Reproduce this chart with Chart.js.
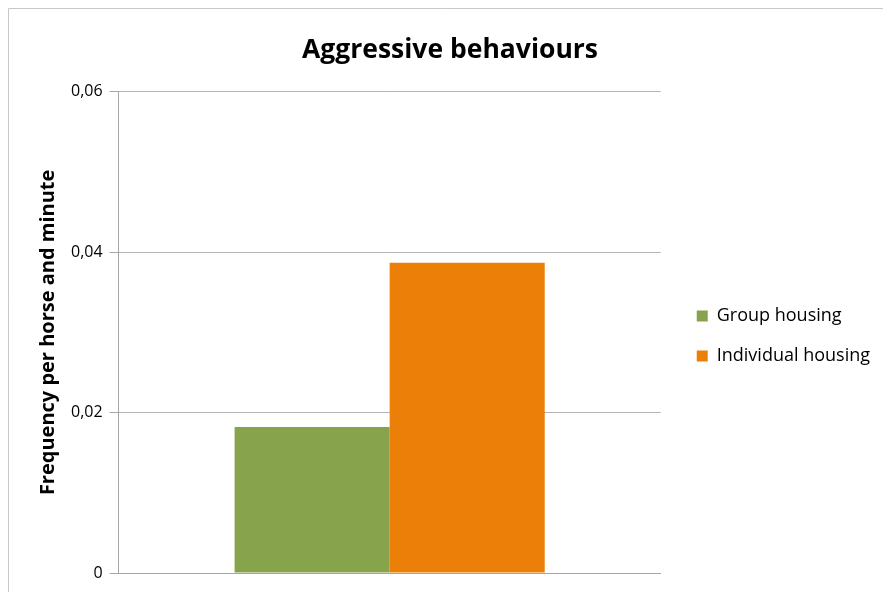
<!DOCTYPE html>
<html>
<head>
<meta charset="utf-8">
<script src="https://cdn.jsdelivr.net/npm/chart.js@4"></script>
<style>
    html, body { margin: 0; padding: 0; background: #fff; }
    #wrap { width: 883px; height: 592px; position: relative; }
</style>
</head>
<body>
<div id="wrap"><canvas id="behaviour_chart" width="883" height="592"></canvas></div>
<script>
var categories = [''];
var seriesNames = ['Group housing', 'Individual housing'];
var groupHousing = [0.0182];
var individualHousing = [0.0387];
var yTicks = [0, 0.02, 0.04, 0.06];

var FONT = "'Open Sans', 'DejaVu Sans', sans-serif";

// light frame round the whole chart
var framePlugin = {
    id: 'frame',
    beforeDraw: function (chart) {
        var ctx = chart.ctx;
        ctx.save();
        ctx.strokeStyle = '#c8c8c8';
        ctx.lineWidth = 1;
        ctx.beginPath();
        ctx.moveTo(8.5, chart.height);
        ctx.lineTo(8.5, 8.5);
        ctx.lineTo(chart.width, 8.5);
        ctx.stroke();
        ctx.restore();
    }
};

// push the legend a little further right, away from the plot
var legendNudge = {
    id: 'legendNudge',
    afterLayout: function (chart) {
        if (chart.legend) {
            chart.legend.left += 14;
            chart.legend.right += 14;
        }
    }
};

document.addEventListener('DOMContentLoaded', function () {
    var ctx = document.getElementById('behaviour_chart').getContext('2d');
    new Chart(ctx, {
        type: 'bar',
        data: {
            labels: categories,
            datasets: [{
                label: seriesNames[0],
                data: groupHousing,
                backgroundColor: '#87a34b',
                borderWidth: 0
            }, {
                label: seriesNames[1],
                data: individualHousing,
                backgroundColor: '#ec7f07',
                borderWidth: 0
            }]
        },
        options: {
            responsive: false,
            animation: false,
            layout: { padding: { top: 35, right: 17, bottom: 11, left: 34 } },
            datasets: {
                bar: { barPercentage: 1, categoryPercentage: 0.572 }
            },
            plugins: {
                tooltip: { enabled: false },
                title: {
                    display: true,
                    text: 'Aggressive behaviours',
                    color: '#000',
                    font: { family: FONT, size: 26.5, weight: 'bold' },
                    padding: { top: 0, bottom: 25 }
                },
                legend: {
                    position: 'right',
                    // empty title only pushes the entries down
                    title: {
                        display: true,
                        text: ' ',
                        font: { family: FONT, size: 10 },
                        padding: { top: 44, bottom: 0 }
                    },
                    labels: {
                        color: '#000',
                        font: { family: FONT, size: 18 },
                        boxWidth: 11,
                        boxHeight: 11,
                        padding: 22
                    }
                }
            },
            scales: {
                x: {
                    grid: { display: false },
                    border: { color: '#a6a6a6' },
                    ticks: { display: false }
                },
                y: {
                    min: 0,
                    max: 0.06,
                    afterBuildTicks: function (axis) {
                        axis.ticks = yTicks.map(function (v) { return { value: v }; });
                    },
                    grid: { color: '#b3b3b3', tickLength: 9, tickColor: '#a6a6a6' },
                    border: { color: '#a6a6a6' },
                    ticks: {
                        color: '#000',
                        font: { family: FONT, size: 16 },
                        padding: 7,
                        callback: function (v) {
                            return v === 0 ? '0' : v.toFixed(2).replace('.', ',');
                        }
                    },
                    title: {
                        display: true,
                        text: 'Frequency per horse and minute',
                        color: '#000',
                        font: { family: FONT, size: 20, weight: 'bold' },
                        padding: { top: 2, bottom: 4 }
                    }
                }
            }
        },
        plugins: [framePlugin, legendNudge]
    });
});
</script>
</body>
</html>
